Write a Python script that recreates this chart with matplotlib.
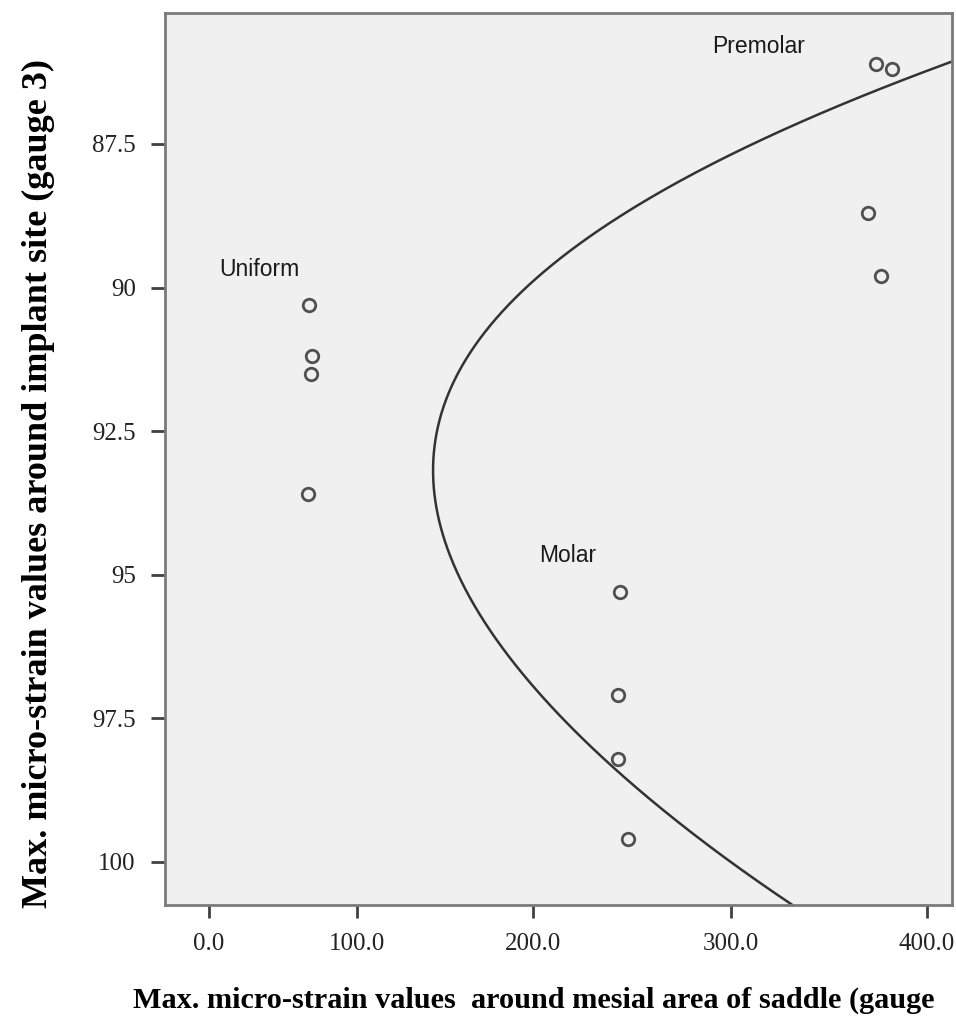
import numpy as np
import matplotlib
matplotlib.use("Agg")
import matplotlib.pyplot as plt

# ------------------------------------------------------------
# Data
# ------------------------------------------------------------
uniform_x = [67.4, 69.4, 68.7, 66.7]
uniform_y = [90.3, 91.2, 91.5, 93.6]

molar_x = [243.9, 243.1, 243.1, 247.8]
molar_y = [95.3, 97.1, 98.2, 99.6]

premolar_x = [374.0, 382.0, 370.1, 376.4]
premolar_y = [86.1, 86.2, 88.7, 89.8]

# points (y, x)
curve_y = [86.06, 86.91, 87.14, 87.55, 87.98, 88.45, 88.94, 89.35, 89.81,
           90.45, 90.91, 91.32, 91.96, 92.42, 93.12, 93.52, 93.93, 94.51,
           95.09, 95.84, 96.54, 97.12, 98.46, 99.62, 100.75]
curve_x = [412.6, 348.8, 335.2, 309.7, 284.3, 259.1, 233.8, 217.0, 200.2,
           181.3, 171.8, 162.3, 152.8, 147.2, 143.4, 143.4, 144.3, 149.0,
           156.7, 171.8, 190.7, 208.6, 242.3, 284.3, 331.8]

x_ticks = [0, 100, 200, 300, 400]
x_tick_labels = ["0.0", "100.0", "200.0", "300.0", "400.0"]
y_ticks = [87.5, 90, 92.5, 95, 97.5, 100]
y_tick_labels = ["87.5", "90", "92.5", "95", "97.5", "100"]

group_labels = ["Uniform", "Molar", "Premolar"]
label_x = [33.8, 217.7, 314.3]
label_y = [89.68, 94.66, 85.81]

# ------------------------------------------------------------
# The source x axis has uneven tick spacing; reproduce it with a
# piecewise-linear scale (relative tick offsets along the axis)
# ------------------------------------------------------------
tick_offsets = np.array([0, 148, 324, 522, 718], dtype=float)
tick_vals = np.array(x_ticks, dtype=float)
s_lo = (tick_offsets[1] - tick_offsets[0]) / (tick_vals[1] - tick_vals[0])
s_hi = (tick_offsets[-1] - tick_offsets[-2]) / (tick_vals[-1] - tick_vals[-2])


def fwd(x):
    x = np.asarray(x, dtype=float)
    out = np.interp(x, tick_vals, tick_offsets)
    out = np.where(x < tick_vals[0], tick_offsets[0] + (x - tick_vals[0]) * s_lo, out)
    out = np.where(x > tick_vals[-1], tick_offsets[-1] + (x - tick_vals[-1]) * s_hi, out)
    return out


def inv(p):
    p = np.asarray(p, dtype=float)
    out = np.interp(p, tick_offsets, tick_vals)
    out = np.where(p < tick_offsets[0], tick_vals[0] + (p - tick_offsets[0]) / s_lo, out)
    out = np.where(p > tick_offsets[-1], tick_vals[-1] + (p - tick_offsets[-1]) / s_hi, out)
    return out


# ------------------------------------------------------------
# Plot
# ------------------------------------------------------------
fig = plt.figure(figsize=(9.56, 10.18), dpi=100)
ax = fig.add_axes([0.1726, 0.111, 0.8229, 0.8762])
ax.set_facecolor("#f0f0f0")

ax.set_xscale("function", functions=(fwd, inv))
ax.set_xlim(-29.7, 412.6)
ax.set_ylim(100.75, 85.22)

# fitted curve: smooth in the axis' own coordinates, so no kinks at ticks
coef = np.polyfit(curve_y, fwd(curve_x), 6)
yy = np.linspace(min(curve_y), max(curve_y), 500)
ax.plot(inv(np.polyval(coef, yy)), yy, color="#333333", linewidth=1.8,
        zorder=2, clip_on=True)

for xs, ys in [(uniform_x, uniform_y), (molar_x, molar_y), (premolar_x, premolar_y)]:
    ax.plot(xs, ys, linestyle="none", marker="o", markersize=9,
            markerfacecolor="none", markeredgecolor="#505050",
            markeredgewidth=2, zorder=3)

for name, lx, ly in zip(group_labels, label_x, label_y):
    ax.text(lx, ly, name, ha="center", va="center", fontsize=16.5,
            family="Liberation Sans", color="#1a1a1a")

ax.set_xticks(x_ticks)
ax.set_xticklabels(x_tick_labels)
ax.set_yticks(y_ticks)
ax.set_yticklabels(y_tick_labels)
ax.minorticks_off()

ax.tick_params(axis="x", which="major", direction="out", length=9, width=2,
               color="#404040", pad=11, labelsize=18, labelcolor="#222222")
ax.tick_params(axis="y", which="major", direction="out", length=10, width=2,
               color="#404040", pad=11, labelsize=18, labelcolor="#222222")
for lbl in ax.get_xticklabels() + ax.get_yticklabels():
    lbl.set_family("Liberation Serif")

for sp in ax.spines.values():
    sp.set_color("#7a7a7a")
    sp.set_linewidth(2)

fig.text(38 / 956, 1 - 483 / 1018,
         "Max. micro-strain values around implant site (gauge 3)",
         rotation=90, ha="center", va="center", fontsize=26,
         fontweight="bold", family="Liberation Serif", color="black")
fig.text(133 / 956, 1 - 1000 / 1018,
         "Max. micro-strain values  around mesial area of saddle (gauge",
         ha="left", va="center", fontsize=21.8,
         fontweight="bold", family="Liberation Serif", color="black")

fig.savefig("out.png", dpi=100)
